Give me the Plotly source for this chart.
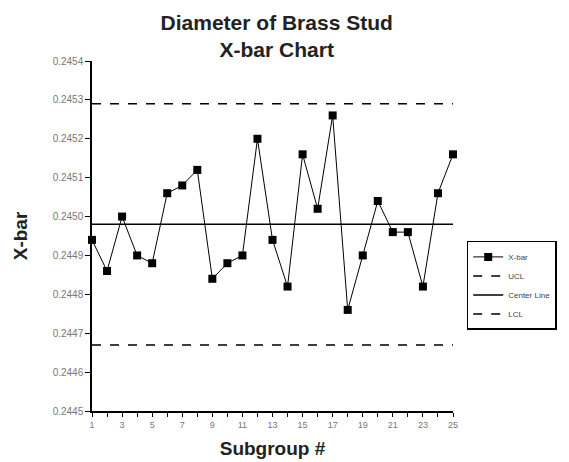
import plotly.graph_objects as go

# subgroup numbers and their sample means
subgroups = list(range(1, 26))
xbar = [0.24494, 0.24486, 0.24500, 0.24490, 0.24488, 0.24506, 0.24508, 0.24512,
        0.24484, 0.24488, 0.24490, 0.24520, 0.24494, 0.24482, 0.24516, 0.24502,
        0.24526, 0.24476, 0.24490, 0.24504, 0.24496, 0.24496, 0.24482, 0.24506,
        0.24516]
ucl = 0.24529
center = 0.24498
lcl = 0.24467

y_ticks = [0.2445, 0.2446, 0.2447, 0.2448, 0.2449, 0.2450, 0.2451, 0.2452, 0.2453, 0.2454]
x_ticktext = [str(s) if s % 2 == 1 else "" for s in subgroups]

fig = go.Figure()
fig.add_trace(go.Scatter(x=subgroups, y=xbar, name="X-bar", mode="lines+markers",
                         line=dict(color="black", width=1),
                         marker=dict(symbol="square", size=8, color="black"),
                         cliponaxis=False))
fig.add_trace(go.Scatter(x=subgroups, y=[ucl] * len(subgroups), name="UCL", mode="lines",
                         line=dict(color="black", width=1.5, dash="dash")))
fig.add_trace(go.Scatter(x=subgroups, y=[center] * len(subgroups), name="Center Line", mode="lines",
                         line=dict(color="black", width=1.5)))
fig.add_trace(go.Scatter(x=subgroups, y=[lcl] * len(subgroups), name="LCL", mode="lines",
                         line=dict(color="black", width=1.5, dash="dash")))

# page body has an 8px margin, so the figure is a bit smaller than the window
fig.update_layout(
    width=561, height=454,
    margin=dict(l=84, r=110, t=53, b=51),
    paper_bgcolor="white", plot_bgcolor="white",
    font=dict(family="Liberation Sans, Arial", color="black"),
    title=dict(text="<b>Diameter of Brass Stud<br>X-bar Chart</b>",
               x=0.479, xanchor="center", y=0.952, yanchor="top",
               font=dict(size=21, color="#222")),
    legend=dict(x=1.038, y=0.486, xanchor="left", yanchor="top",
                bordercolor="black", borderwidth=1.5,
                font=dict(size=8, color="#444"), tracegroupgap=0,
                itemwidth=30),
    xaxis=dict(range=[1, 25], tickvals=subgroups, ticktext=x_ticktext,
               showgrid=False, zeroline=False, showline=True, linecolor="black",
               linewidth=1.5, ticks="outside", ticklen=4, tickcolor="black",
               tickfont=dict(size=9, color="#777"), automargin=False,
               title=dict(text="<b>Subgroup #</b>", font=dict(size=19, color="#222"), standoff=13)),
    yaxis=dict(range=[0.2445, 0.2454], tickvals=y_ticks, tickformat=".4f",
               showgrid=False, zeroline=False, showline=True, linecolor="black",
               linewidth=1.5, ticks="outside", ticklen=5, tickcolor="black",
               tickfont=dict(size=10, color="#777"), automargin=False,
               title=dict(text="<b>X-bar</b>", font=dict(size=19, color="#222"), standoff=20)),
)

fig.write_html("out.html")
